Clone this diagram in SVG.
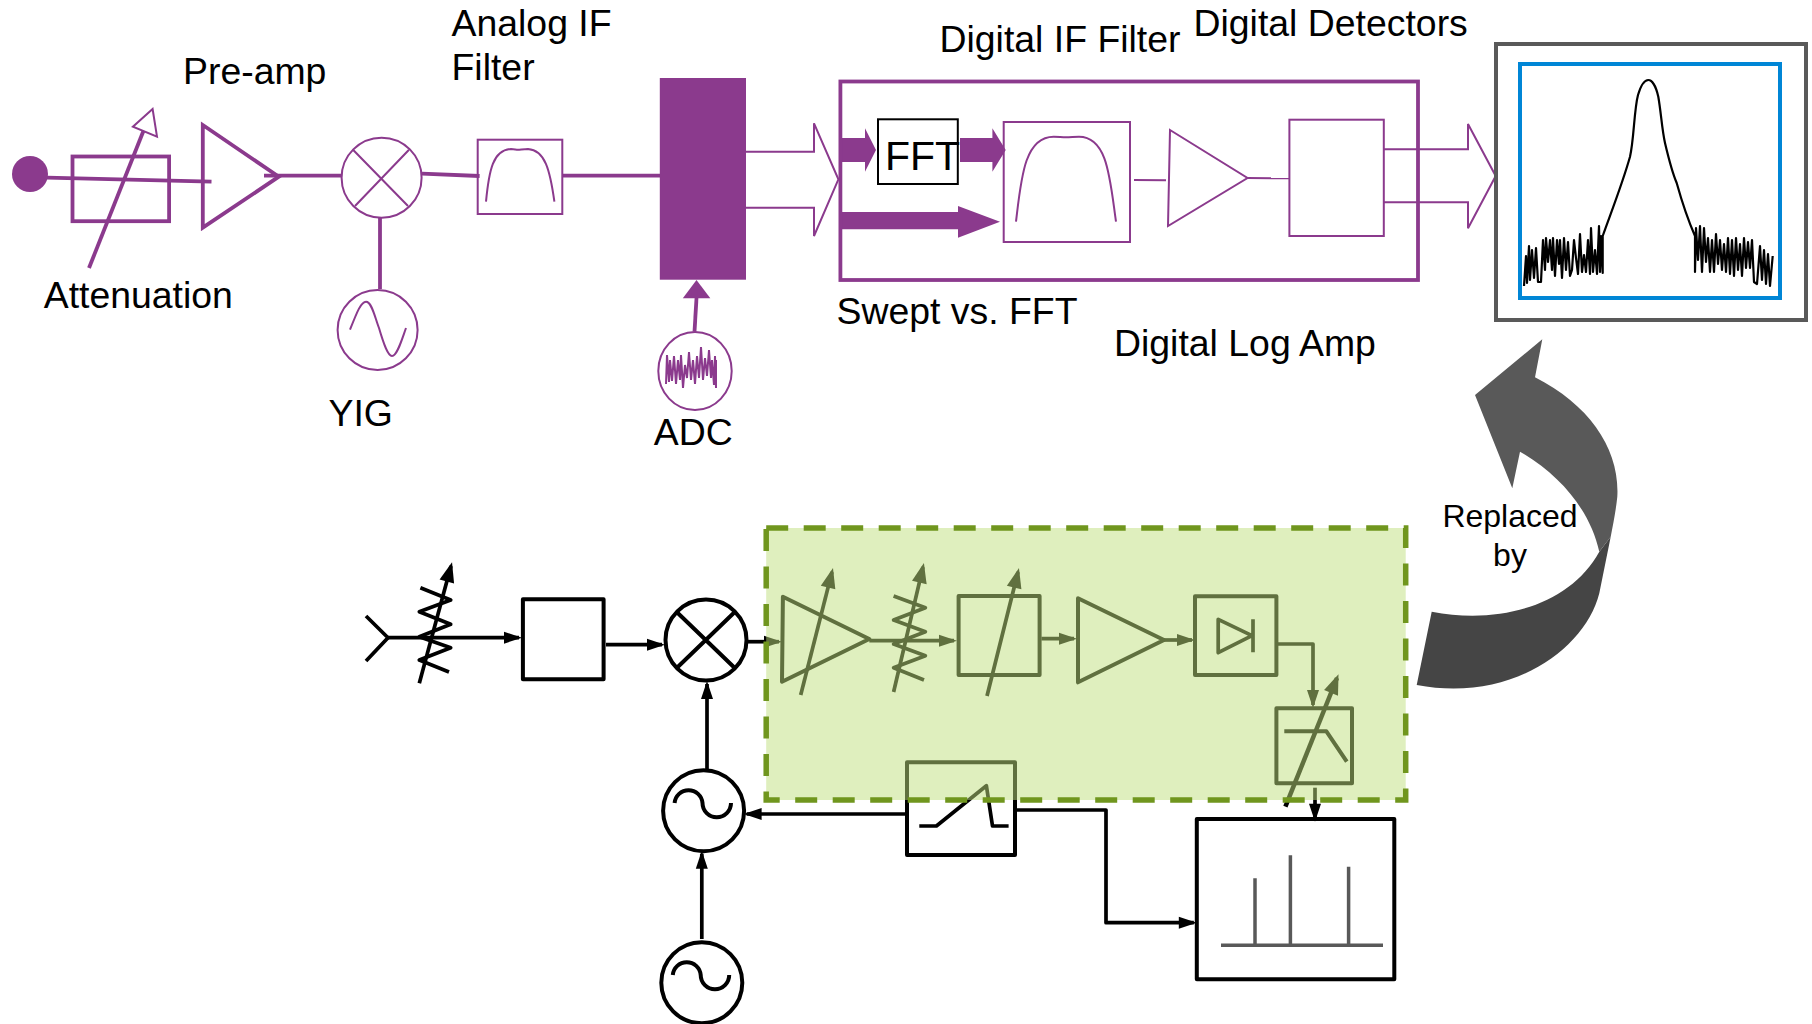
<svg xmlns="http://www.w3.org/2000/svg" width="1812" height="1024" viewBox="0 0 1812 1024">
<style>
text{font-family:"Liberation Sans",Arial,sans-serif;fill:#000}
.t{font-size:37.400px}
.r{font-size:32px;text-anchor:middle}
.p,.p2,.p4{fill:none;stroke:#8B3A8D;stroke-linejoin:miter}
.p{stroke-width:2}.p4{stroke-width:3.800}
.pf{fill:#8B3A8D;stroke:none}
.k,.k4{fill:none;stroke:#000;stroke-width:3.700;stroke-linejoin:round}
.k4{stroke-width:4}
.g{fill:none;stroke:#595959;stroke-width:3.500}
</style>
<defs>
<marker id="ah" markerUnits="userSpaceOnUse" markerWidth="20" markerHeight="14" viewBox="0 0 18 14" refX="15" refY="7" orient="auto"><path d="M0,1 L18,7 L0,13 Z" fill="#000"/></marker>
<marker id="ahb" markerUnits="userSpaceOnUse" markerWidth="22" markerHeight="18" viewBox="0 0 20 18" refX="16" refY="9" orient="auto"><path d="M0,1.500 L20,9 L0,16.500 Z" fill="#000"/></marker>
</defs>
<rect width="1812" height="1024" fill="#fff"/>
<g id="connectors">
<path class="p4" d="M47,177.700 L211.500,181.700"/>
<path class="p4" d="M264,175.700 L342,175.700"/>
<path class="p4" d="M422,173.700 L479.600,176"/>
<path class="p4" d="M562,175.700 L660,175.700"/>
<path class="p4" d="M380,218 L380,289"/>
<path class="p" d="M1134,180 L1166,180.300"/>
<path class="p" d="M1247.500,178 L1289.400,178.300"/>
<path class="pf" d="M839.400,138 H865 V128.300 L876,150 L865,171.700 V162 H839.400 Z"/>
<path class="pf" d="M960,138 H992.400 V128.300 L1005.700,150 L992.400,171.700 V162 H960 Z"/>
<path class="pf" d="M839.400,212 H958 V206 L1000,221.700 L958,237.700 V229.300 H839.400 Z"/>
<path class="p" d="M746,151.700 H814 V123.300 L838.400,179.300 L814,236 V207.700 H746"/>
<path class="p" d="M1383.800,149.300 H1468 V124 L1495.700,176 L1468,228.300 V202.300 H1383.800"/>
<path class="p4" d="M694.500,331.700 L696.500,298"/>
<path class="pf" d="M696.500,280 L710.300,298.300 H682.800 Z"/>
<g id="lower-connectors">
<path class="k" d="M388,637.700 H519" marker-end="url(#ah)"/>
<path class="k" d="M606,644.700 H662" marker-end="url(#ah)"/>
<path class="k" d="M747,641.700 H779" marker-end="url(#ah)"/>
<path class="k" d="M869.300,640.700 H954" marker-end="url(#ah)"/>
<path class="k" d="M1041.400,638.700 H1074" marker-end="url(#ah)"/>
<path class="k" d="M1164,640 H1192" marker-end="url(#ah)"/>
<path class="k" d="M1277,644 H1313 V705" marker-end="url(#ah)"/>
<path class="k" d="M1315,787.700 V818.700" marker-end="url(#ah)"/>
<path class="k" d="M707,770 V684" marker-end="url(#ah)"/>
<path class="k" d="M701.800,939 V853.700" marker-end="url(#ah)"/>
<path class="k" d="M907,814 H746.600" marker-end="url(#ah)"/>
<path class="k" d="M1016.400,810 H1106 V922.700 H1193.800" marker-end="url(#ah)"/>
</g>
</g>
<g id="input-port"><circle cx="30" cy="174" r="18" class="pf"/></g>
<g id="attenuator">
<rect x="72.500" y="156.500" width="96.600" height="64.700" class="p4"/>
<path class="p4" d="M89,268 L145,127"/>
<path d="M152.600,109 L157,136.700 L132.900,126.700 Z" fill="#fff" stroke="#8B3A8D" stroke-width="2"/>
</g>
<g id="preamp"><path class="p4" d="M202.800,125 L278.800,176.700 L202.800,227.700 Z"/></g>
<g id="mixer">
<circle cx="381.600" cy="177.700" r="40" fill="none" stroke="#8B3A8D" stroke-width="2"/>
<path class="p" d="M353,149.700 L408,206 M409,149.700 L355,206"/>
</g>
<g id="analog-if-filter">
<rect x="477.700" y="139.700" width="84.600" height="74.300" class="p"/>
<path class="p" d="M486,201.700 C489,170 493,150 511,149 C514,149 516,149.800 518,149.800 C520,149.800 524,149 528,149 C545,150 550,170 554.400,201.700"/>
</g>
<g id="yig">
<circle cx="377.600" cy="330" r="40" fill="none" stroke="#8B3A8D" stroke-width="2"/>
<path class="p" d="M350,329.700 C357,312 361,301.700 366,301.700 C372,301.700 375,318 379,328 C384,345 388,356 392,356 C397,356 401,342 406,328"/>
</g>
<g id="adc-block"><rect x="659.800" y="78" width="86.200" height="201.700" class="pf"/></g>
<g id="adc">
<ellipse cx="695" cy="371" rx="36.700" ry="39" fill="none" stroke="#8B3A8D" stroke-width="2"/>
<path class="p" d="M666,384 L667,355 L669,382 L670,360 L672,381 L674,356 L676,384 L678,360 L680,380 L681,355 L683,388 L685,365 L687,378 L689,352 L691,380 L693,360 L695,384 L697,356 L699,378 L701,347 L703,380 L705,358 L707,376 L709,350 L711,378 L712,360 L714,385 L715,356 L716,388 L716,360 L716,378"/>
</g>
<g id="digital-section"><rect x="840.400" y="81.500" width="577.600" height="198.500" class="p4"/></g>
<g id="fft"><rect x="878" y="119.300" width="79.800" height="64.700" fill="none" stroke="#000" stroke-width="2"/><text x="885" y="169.500" font-size="41">FFT</text></g>
<g id="digital-if-filter">
<rect x="1003.700" y="122" width="126.300" height="120" class="p"/>
<path class="p" d="M1016,221.700 C1021,180 1024,136.700 1053.700,136.700 C1058,136.700 1062,137.200 1066,137.200 C1070,137.200 1075,136.700 1079,136.700 C1108,136.700 1110,180 1116,221.700"/>
</g>
<g id="digital-log-amp"><path class="p" d="M1170,130 L1247.500,178 L1168,226 Z"/></g>
<g id="digital-detector"><rect x="1289.400" y="119.700" width="94.400" height="116.300" class="p"/></g>
<g id="display">
<rect x="1496" y="44" width="310" height="276" fill="none" stroke="#595959" stroke-width="4"/>
<rect x="1520" y="64" width="260" height="234" fill="none" stroke="#0086D6" stroke-width="4"/>
<path fill="none" stroke="#000" stroke-width="2.200" stroke-linejoin="round" d="M1524,286 L1526,256 L1527,283 L1529,246 L1530,280 L1532,250 L1534,278 L1536,248 L1538,282 L1541,282 L1543,240 L1545,270 L1546,238 L1548,262 L1550,240 L1552,270 L1553,238 L1555,276 L1557,240 L1559,264 L1560,240 L1562,278 L1564,238 L1566,270 L1568,242 L1570,276 L1572,270 L1574,240 L1576,258 L1578,274 L1580,234 L1582,272 L1584,255 L1586,272 L1588,240 L1590,274 L1591,228 L1593,272 L1595,250 L1597,274 L1599,226 L1600,272 L1601,236 L1602.700,273 L1602.700,236 C1610,215 1622,185 1630,156.700 C1634,140 1634,110 1638,95 C1641,85 1645,80 1648.300,80 C1652,80 1656,86 1658.300,96.700 C1661,112 1662,130 1665,143 C1669,160 1672,172 1676.700,183 C1682,202 1688,220 1695,236 L1695,272 L1696,228 L1698,260 L1700,226 L1702,272 L1704,228 L1706,262 L1708,238 L1710,272 L1712,240 L1714,272 L1716,234 L1718,264 L1720,240 L1722,270 L1724,244 L1726,272 L1728,238 L1730,274 L1732,240 L1734,276 L1736,238 L1738,270 L1740,244 L1742,276 L1744,238 L1746,268 L1748,242 L1750,268 L1752,240 L1754,282 L1757,284 L1760,246 L1762,280 L1764,250 L1766,284 L1768,254 L1770,286 L1772.700,256"/>
</g>
<g id="antenna"><path class="k" d="M366,616 L388,637.700 L366,661"/></g>
<g id="input-attenuator">
<path class="k" d="M420.400,587.700 L450.700,600 L419.300,611.700 L450.700,624.300 L419.300,636.700 L450.700,647.700 L419.300,660 L449,672"/>
<path class="k" d="M419.300,683.300 L451,566" marker-end="url(#ahb)"/>
</g>
<g id="bandpass-box"><rect x="522.900" y="599.300" width="80.700" height="80" class="k4"/></g>
<g id="rf-mixer">
<circle cx="706" cy="640" r="40.500" class="k4"/>
<path class="k4" d="M677.500,612.700 L734,667.300 M734,612.700 L677.500,667.300"/>
</g>
<g id="sweep-lo">
<circle cx="703.600" cy="810.700" r="40.500" class="k4"/>
<path class="k4" d="M674.600,803 A14,14 0 0 1 702.500,803 A14,14 0 0 0 731,803"/>
</g>
<g id="reference-lo">
<circle cx="701.800" cy="982.700" r="40.500" class="k4"/>
<path class="k4" d="M672.800,975 A14,14 0 0 1 700.700,975 A14,14 0 0 0 729.200,975"/>
</g>
<g id="if-amp">
<path class="k4" d="M782.900,596.700 L869.300,639 L782,681.700 Z"/>
<path class="k" d="M800.700,695 L832,572" marker-end="url(#ahb)"/>
</g>
<g id="if-attenuator">
<path class="k" d="M893.600,596 L925.400,607.700 L893.600,620 L925.400,631.700 L893.600,644 L925.400,655.700 L893.600,667.700 L924,680"/>
<path class="k" d="M893.600,692 L923,567" marker-end="url(#ahb)"/>
</g>
<g id="if-filter">
<rect x="958.600" y="596" width="81" height="79" class="k4"/>
<path class="k" d="M987,696 L1018,572" marker-end="url(#ahb)"/>
</g>
<g id="if-amp-2"><path class="k4" d="M1078,598.300 L1164,640 L1078,682.300 Z"/></g>
<g id="envelope-detector">
<rect x="1195" y="596.300" width="81.400" height="78.700" class="k4"/>
<path class="k" d="M1218.200,619.300 L1252,635.700 L1218.200,652.700 Z M1253,619.300 V652.300"/>
</g>
<g id="video-filter">
<rect x="1276.400" y="708.300" width="75.600" height="75" class="k4"/>
<path class="k4" d="M1284.300,731.300 H1326.400 L1346.800,761.700"/>
<path d="M1285.400,806.700 L1337,678" stroke="#000" stroke-width="4.500" fill="none" marker-end="url(#ahb)"/>
</g>
<g id="ramp-generator">
<rect x="907" y="762.300" width="108" height="92.700" class="k4"/>
<path class="k" d="M919.300,826 H936.400 L986.400,785.700 L992.500,826 H1008.600"/>
</g>
<g id="spectrum-display">
<rect x="1196.800" y="819" width="197.500" height="160.300" class="k4"/>
<path class="g" d="M1221,945.300 H1383 M1255,945.300 V878.300 M1290.400,945.300 V855.300 M1348.600,945.300 V866.700"/>
</g>
<g id="replaced-section">
<rect x="766.200" y="528" width="639.500" height="272" fill="#BFDF7D" fill-opacity=".5"/>
<rect x="766.200" y="528" width="639.500" height="272" fill="none" stroke="#70961E" stroke-width="5.500" stroke-dasharray="22 15.500"/>
</g>
<g id="replaced-arrow">
<path fill="#454545" d="M1610.700,536.700 L1599.300,593.300 C1585,650 1510,703 1416.700,685 L1431.700,611.700 C1500,625 1570,605 1599.300,551.700 Z"/>
<path fill="#595959" d="M1542.300,339.300 L1535,377.300 C1590,405 1620,450 1617.300,496.700 C1616,510 1613,525 1610.700,536.700 L1599.300,551.700 C1590,510 1560,475 1520,451.700 L1512.300,488.300 L1475,395 Z"/>
</g>
<g id="labels">
<text class="t" x="183" y="84">Pre-amp</text>
<text class="t" x="451.500" y="36">Analog IF</text>
<text class="t" x="451.500" y="80">Filter</text>
<text class="t" x="43.700" y="308">Attenuation</text>
<text class="t" x="328.500" y="425.500">YIG</text>
<text class="t" x="653.700" y="444.500">ADC</text>
<text class="t" x="939.500" y="52">Digital IF Filter</text>
<text class="t" x="1193.500" y="36">Digital Detectors</text>
<text class="t" x="836.500" y="324">Swept vs. FFT</text>
<text class="t" x="1114" y="356">Digital Log Amp</text>
<text class="r" x="1510" y="527">Replaced</text>
<text class="r" x="1510" y="566">by</text>
</g>
</svg>
